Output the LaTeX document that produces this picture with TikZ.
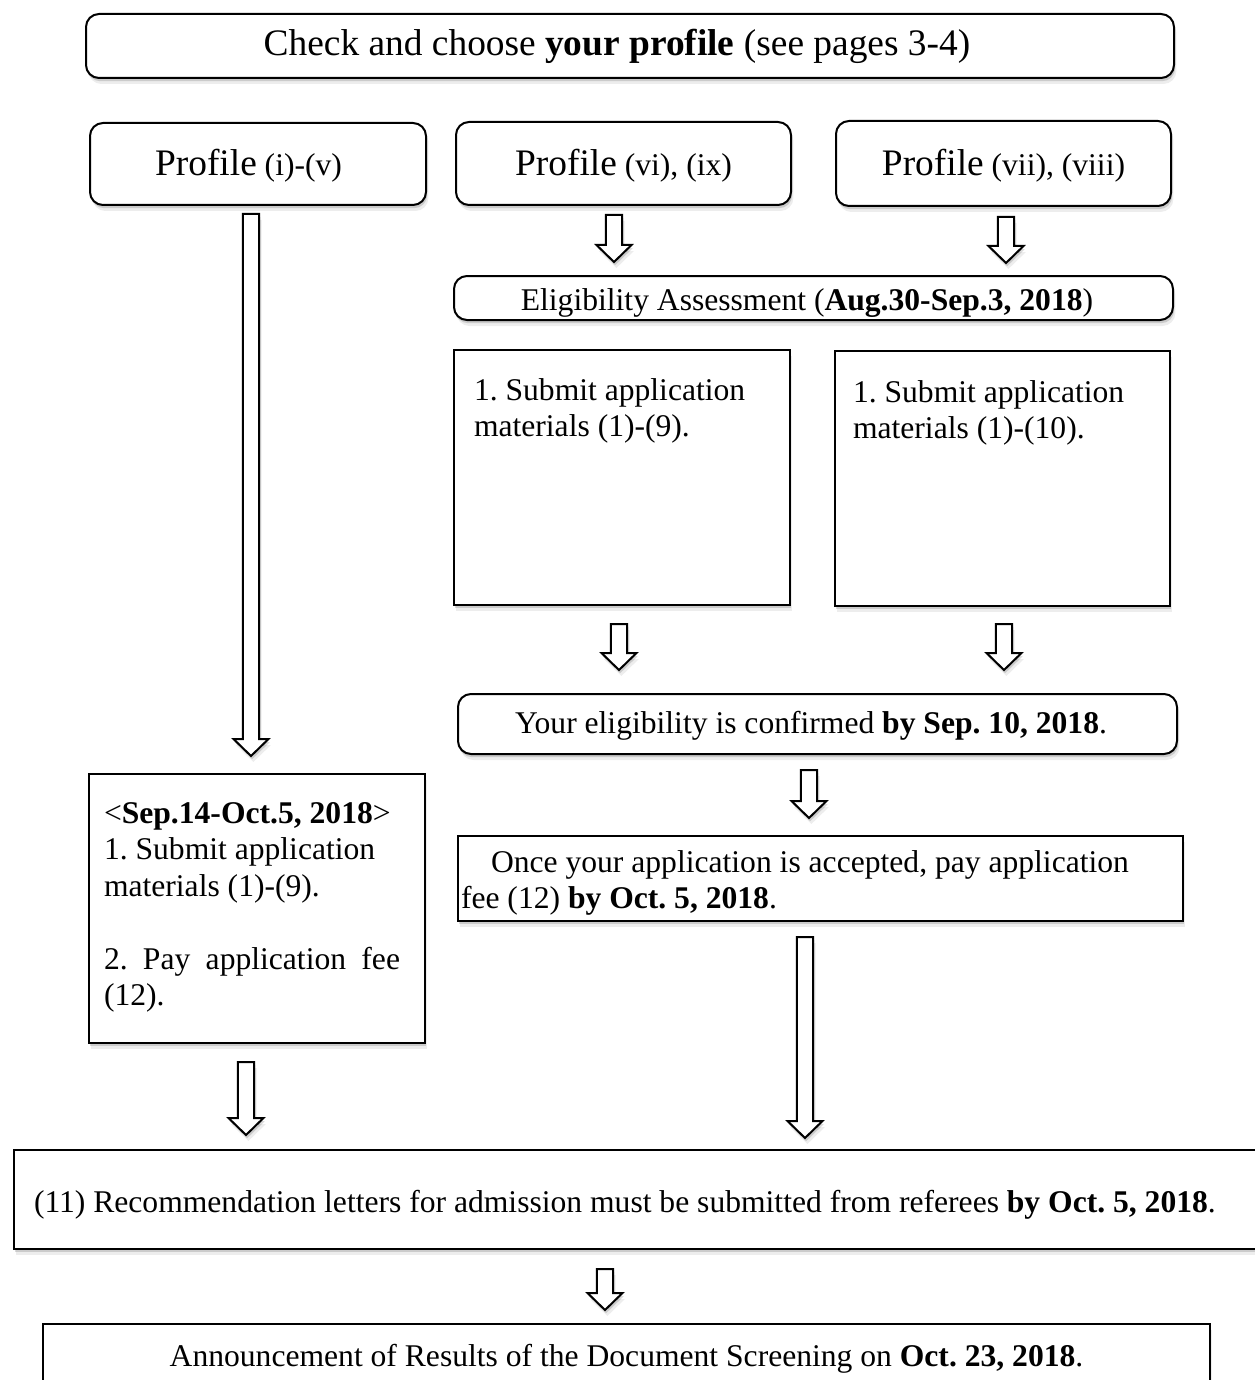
\documentclass[tikz,border=0pt]{standalone}
\usepackage{fontspec}
\setmainfont{Liberation Serif}
\usetikzlibrary{calc,shadows}
\begin{document}
\frenchspacing
\begin{tikzpicture}[x=0.5pt,y=-0.5pt,
  every node/.style={font=\fontsize{15.8pt}{18.25pt}\selectfont\frenchspacing},
  shad/.style={drop shadow={shadow xshift=0.6pt,shadow yshift=-1.6pt,opacity=0.14,fill=black},
               drop shadow={shadow xshift=1.2pt,shadow yshift=-3pt,opacity=0.07,fill=black}},
  box/.style={draw, line width=1pt, fill=white, inner sep=0pt, anchor=north west, shad},
  rbox/.style={box, rounded corners=6.5pt},
  harrow/.style={draw, line width=1pt, fill=white, shad,
    to path={let \p1=(\tikztostart), \p2=(\tikztotarget) in
      (\x1-4.1pt,\y1) -- (\x1-4.1pt,\y2+8.5pt) -- (\x1-8.75pt,\y2+8.5pt) -- (\x1,\y2)
      -- (\x1+8.75pt,\y2+8.5pt) -- (\x1+4.1pt,\y2+8.5pt) -- (\x1+4.1pt,\y1) -- cycle}}
]
\useasboundingbox (0,0) rectangle (1254,1380);
\fill[white] (0,0) rectangle (1254,1380);

\node[rbox, minimum width=544pt, minimum height=32pt, text height=13.5pt, text depth=3.5pt] (top) at (85,13)
  {\fontsize{18.7pt}{22pt}\selectfont Check and choose \textbf{your profile} (see pages 3-4)\hspace*{13pt}};

\node[rbox, minimum width=168pt, minimum height=41pt, text height=14.5pt, text depth=2.5pt] (p1) at (89,122)
  {{\fontsize{18.7pt}{22pt}\selectfont Profile} (i)-(v)\hspace*{9.5pt}};
\node[rbox, minimum width=167.5pt, minimum height=41.5pt, text height=14.5pt, text depth=2.5pt] (p2) at (455,121)
  {{\fontsize{18.7pt}{22pt}\selectfont Profile} (vi), (ix)};
\node[rbox, minimum width=167.5pt, minimum height=42.5pt, text height=14.5pt, text depth=2.5pt] (p3) at (835,120)
  {{\fontsize{18.7pt}{22pt}\selectfont Profile} (vii), (viii)};

\node[rbox, minimum width=359.5pt, minimum height=22pt, text height=13.5pt, text depth=1pt] (elig) at (453,275)
  {Eligibility Assessment (\textbf{Aug.30-Sep.3, 2018})\hspace*{6.5pt}};

\node[box, minimum width=168pt, minimum height=127.5pt] (s1) at (453,349)
  {\parbox[c][127.5pt][t]{148pt}{\raggedright\rule{0pt}{25pt}1. Submit application\\materials (1)-(9).}};
\node[box, minimum width=167.5pt, minimum height=127.5pt] (s2) at (834,350)
  {\parbox[c][127.5pt][t]{149.5pt}{\raggedright\rule{0pt}{25.5pt}1. Submit application\\materials (1)-(10).}};

\node[rbox, minimum width=359.5pt, minimum height=30pt, text height=12pt, text depth=2.4pt] (conf) at (457,693)
  {Your eligibility is confirmed \textbf{by Sep. 10, 2018}.\hspace*{6.5pt}};

\node[box, minimum width=362.5pt, minimum height=42.5pt] (once) at (457,835)
  {\parbox[c][42.5pt][t]{359.5pt}{\raggedright\rule{0pt}{18pt}\hspace*{15pt}Once your application is accepted, pay application\\fee (12) \textbf{by Oct. 5, 2018}.}};

\node[box, minimum width=168pt, minimum height=134.5pt] (left) at (88,773)
  {\parbox[c][134.5pt][t]{148pt}{\rule{0pt}{24.5pt}<\textbf{Sep.14-Oct.5, 2018}>\\1. Submit application\\materials (1)-(9).\\[18.25pt]2.\hfill Pay\hfill application\hfill fee\\(12).}\hspace*{5pt}};

\node[box, minimum width=631pt, minimum height=49.5pt, text height=12.5pt, text depth=0pt] (rec) at (13,1149)
  {\makebox[611pt][l]{(11) Recommendation letters for admission must be submitted from referees \textbf{by Oct. 5, 2018}.}};

\node[box, minimum width=583.5pt, minimum height=35pt] (ann) at (42,1323)
  {Announcement of Results of the Document Screening on \textbf{Oct. 23, 2018}.};

\draw[harrow] ($(p1.south)+(-7,8)$) to ($(left.north)+(0,-17)$);
\draw[harrow] ($(p2.south)+(-9.5,9)$) to ($(elig.north)+(0,-13)$);
\draw[harrow] ($(p3.south)+(2.5,10)$) to ($(elig.north)+(0,-12)$);
\draw[harrow] ($(s1.south)+(-3,18)$) to ($(conf.north)+(0,-23)$);
\draw[harrow] ($(s2.south)+(1.5,17)$) to ($(conf.north)+(0,-23)$);
\draw[harrow] ($(conf.south)+(-8.5,15)$) to ($(once.north)+(0,-17)$);
\draw[harrow] ($(once.south)+(-15.5,15)$) to ($(rec.north)+(0,-11)$);
\draw[harrow] ($(left.south)+(-11,18)$) to ($(rec.north)+(0,-14)$);
\draw[harrow] ($(rec.south)+(-40,19)$) to ($(ann.north)+(0,-13)$);
\end{tikzpicture}
\end{document}
